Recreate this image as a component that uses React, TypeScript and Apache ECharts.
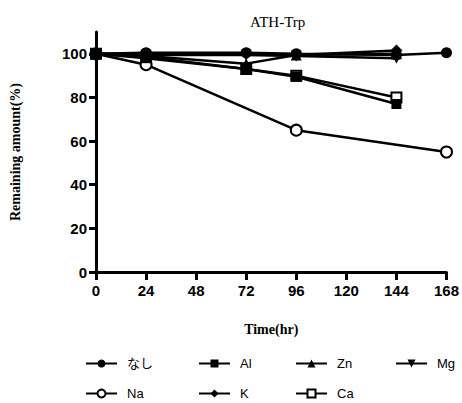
import React, { useEffect, useRef } from "react";
import * as echarts from "echarts";

const times = [0, 24, 72, 96, 144, 168];
const seriesNames = ["なし", "Al", "Zn", "Mg", "Na", "K", "Ca"];
const nashi = [100, 100.5, 100.5, 100, 99.5, 100.5];
const al = [100, 98, 93, 89.5, 77, null];
const zn = [100, 99, 95.5, 99.5, 100, null];
const mg = [100, 99.5, 99.5, 99, 98, null];
const na = [100, 95, null, 65, null, 55];
const k = [100, 100, 100, 99.5, 101.5, null];
const ca = [100, 98.5, 93, 90, 80, null];
const yTicks = [0, 20, 40, 60, 80, 100];
const xTicks = [0, 24, 48, 72, 96, 120, 144, 168];

const seriesValues = [nashi, al, zn, mg, na, k, ca];
const symbols = ["circle", "rect", "triangle", "triangle", "circle", "diamond", "rect"];
const rotations = [0, 0, 0, 180, 0, 0, 0];
const hollow = [false, false, false, false, true, false, true];
const sizes = [11, 10, 11, 11, 11, 12, 10];
const legendPos = [
  [85, 357], [198, 357], [295, 357], [395, 357],
  [85, 387], [198, 387], [295, 387],
];

export default function App() {
  const ref = useRef<HTMLDivElement>(null);
  useEffect(() => {
    if (!ref.current) return;
    const chart = echarts.init(ref.current, null, { renderer: "svg" });
    const series = seriesNames.map((name, i) => ({
      name,
      type: "line",
      data: times.map((t, j) => [t, seriesValues[i][j]]).filter((p) => p[1] !== null),
      symbol: symbols[i],
      symbolSize: sizes[i],
      symbolRotate: rotations[i],
      showAllSymbol: true,
      lineStyle: { color: "#000", width: 2.5 },
      itemStyle: {
        color: hollow[i] ? "#fff" : "#000",
        borderColor: "#000",
        borderWidth: hollow[i] ? 2 : 0,
      },
      z: 10 - i,
    }));
    const legends = seriesNames.map((name, i) => ({
      data: [name],
      left: legendPos[i][0],
      top: legendPos[i][1],
      itemWidth: 31,
      itemHeight: 10,
      padding: 0,
      textStyle: {
        fontFamily: "'Liberation Sans', 'Noto Sans CJK JP', sans-serif",
        fontSize: 13,
        color: "#000",
        padding: [0, 0, 0, 5],
      },
    }));
    chart.setOption({
      animation: false,
      backgroundColor: "#fff",
      title: {
        text: "ATH-Trp",
        left: 245,
        top: 9,
        textStyle: {
          fontFamily: "'Liberation Serif', serif",
          fontSize: 15,
          fontWeight: "normal",
          color: "#000",
        },
      },
      legend: legends,
      grid: { left: 91, right: 14, top: 32, bottom: 131, containLabel: false },
      xAxis: {
        type: "value",
        min: 0,
        max: 168,
        interval: 24,
        name: "Time(hr)",
        nameLocation: "middle",
        nameGap: 50,
        nameTextStyle: {
          fontFamily: "'Liberation Serif', serif",
          fontWeight: "bold",
          fontSize: 14,
          color: "#000",
        },
        splitLine: { show: false },
        axisLine: { show: true, lineStyle: { color: "#000", width: 3 } },
        axisTick: { show: true, length: 8, lineStyle: { color: "#000", width: 3 } },
        axisLabel: {
          customValues: xTicks,
          margin: 11,
          fontFamily: "'Liberation Sans', Arial, sans-serif",
          fontWeight: "bold",
          fontSize: 15,
          color: "#000",
        },
      },
      yAxis: {
        type: "value",
        min: 0,
        max: 110,
        name: "Remaining amount(%)",
        nameLocation: "middle",
        nameRotate: 90,
        nameGap: 74,
        nameTextStyle: {
          fontFamily: "'Liberation Serif', serif",
          fontWeight: "bold",
          fontSize: 14,
          color: "#000",
        },
        splitLine: { show: false },
        axisLine: { show: true, lineStyle: { color: "#000", width: 3 } },
        axisTick: { show: true, length: 7, customValues: yTicks, lineStyle: { color: "#000", width: 3 } },
        axisLabel: {
          customValues: yTicks,
          margin: 9,
          fontFamily: "'Liberation Sans', Arial, sans-serif",
          fontWeight: "bold",
          fontSize: 15,
          color: "#000",
        },
      },
      series,
    });
    return () => chart.dispose();
  }, []);
  return <div ref={ref} style={{ position: "fixed", left: 0, top: 0, width: 462, height: 403 }} />;
}
